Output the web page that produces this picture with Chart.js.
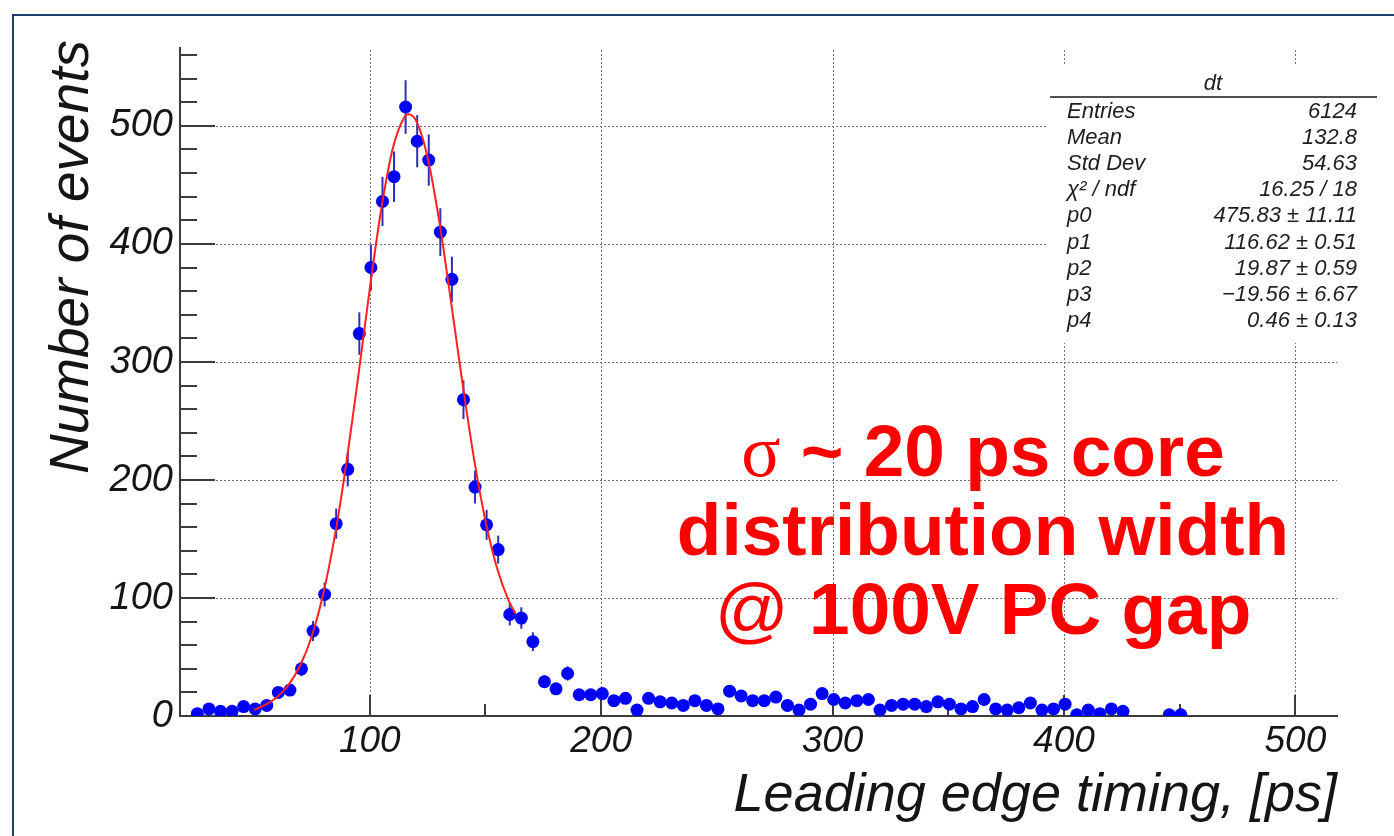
<!DOCTYPE html>
<html>
<head>
<meta charset="utf-8">
<script src="https://cdn.jsdelivr.net/npm/chart.js@4.4.0/dist/chart.umd.min.js"></script>
<style>
html,body{margin:0;padding:0;background:#fff;}
#wrap{position:relative;width:1394px;height:836px;overflow:hidden;background:#fff;}
#frame{position:absolute;left:12px;top:14px;width:1600px;height:1000px;border-left:2px solid #1f3a6e;border-top:2px solid #1f3a6e;}
#c{position:absolute;left:0;top:0;}
</style>
</head>
<body>
<div id="wrap"><div id="frame"></div><canvas id="c" width="1394" height="836"></canvas></div>
<script>
// ---- data ----
const binCenters = [25.5,30.5,35.5,40.5,45.5,50.5,55.5,60.5,65.5,70.5,75.5,80.5,85.5,90.5,95.5,100.5,105.5,110.5,115.5,120.5,125.5,130.5,135.5,140.5,145.5,150.5,155.5,160.5,165.5,170.5,175.5,180.5,185.5,190.5,195.5,200.5,205.5,210.5,215.5,220.5,225.5,230.5,235.5,240.5,245.5,250.5,255.5,260.5,265.5,270.5,275.5,280.5,285.5,290.5,295.5,300.5,305.5,310.5,315.5,320.5,325.5,330.5,335.5,340.5,345.5,350.5,355.5,360.5,365.5,370.5,375.5,380.5,385.5,390.5,395.5,400.5,405.5,410.5,415.5,420.5,425.5,445.5,450.5];
const counts = [2,6,4,4,8,6,9,20,22,40,72,103,163,209,324,380,436,457,516,487,471,410,370,268,194,162,141,86,83,63,29,23,36,18,18,19,13,15,5,15,12,11,9,13,9,6,21,17,13,13,16,9,5,10,19,14,11,13,14,5,9,10,10,8,12,10,6,8,14,6,5,7,11,5,6,10,1,5,2,6,4,1,1];
const fitX = [50,55,60,65,70,75,80,85,90,95,100,105,110,115,116.6,120,125,130,135,140,145,150,155,160,163];
const fitY = [5.2,9.6,16.2,26.6,43.0,68.0,104.4,153.7,215.8,287.4,361.8,429.8,481.2,507.6,509.9,504.6,473.3,419.6,352.7,283.0,218.7,165.5,125.4,97.9,86.6];
const xTickValues = [100,200,300,400,500];
const xMinorTicks = [50,150,250,350,450];
const yTickValues = [0,100,200,300,400,500];
const yMinorTicks = [20,40,60,80,120,140,160,180,220,240,260,280,320,340,360,380,420,440,460,480,520,540,560];
const xTitle = 'Leading edge timing, [ps]';
const yTitle = 'Number of events';
const statsTitle = 'dt';
const statsLabels = ['Entries','Mean','Std Dev','χ² / ndf','p0','p1','p2','p3','p4'];
const statsValues = ['6124','132.8','54.63','16.25 / 18','475.83 ± 11.11','116.62 ± 0.51','19.87 ± 0.59','−19.56 ± 6.67','0.46 ± 0.13'];
const annotationLines = ['σ ~ 20 ps core','distribution width','@ 100V PC gap'];

const SANS = '"Liberation Sans", Arial, Helvetica, sans-serif';
const SERIF = '"Liberation Serif", "Times New Roman", serif';

const rootPlugin = {
  id: 'rootStyle',
  beforeDatasetsDraw(chart) {
    const {ctx, chartArea: a, scales: {x, y}} = chart;
    ctx.save();
    // dotted grid
    ctx.strokeStyle = '#707070';
    ctx.lineWidth = 1;
    ctx.setLineDash([2, 2]);
    xTickValues.forEach(v => {
      const px = Math.round(x.getPixelForValue(v)) + 0.5;
      ctx.beginPath(); ctx.moveTo(px, a.bottom); ctx.lineTo(px, a.top); ctx.stroke();
    });
    yTickValues.forEach(v => {
      if (v === 0) return;
      const py = Math.round(y.getPixelForValue(v)) + 0.5;
      ctx.beginPath(); ctx.moveTo(a.left, py); ctx.lineTo(a.right, py); ctx.stroke();
    });
    ctx.setLineDash([]);
    // inside tick marks
    ctx.strokeStyle = '#3c3c3c';
    ctx.lineWidth = 2;
    yTickValues.forEach(v => {
      const py = Math.round(y.getPixelForValue(v));
      ctx.beginPath(); ctx.moveTo(a.left, py); ctx.lineTo(a.left + 35, py); ctx.stroke();
    });
    yMinorTicks.forEach(v => {
      const py = Math.round(y.getPixelForValue(v));
      ctx.beginPath(); ctx.moveTo(a.left, py); ctx.lineTo(a.left + 17, py); ctx.stroke();
    });
    xTickValues.forEach(v => {
      const px = Math.round(x.getPixelForValue(v));
      ctx.beginPath(); ctx.moveTo(px, a.bottom); ctx.lineTo(px, a.bottom - 21); ctx.stroke();
    });
    xMinorTicks.forEach(v => {
      const px = Math.round(x.getPixelForValue(v));
      ctx.beginPath(); ctx.moveTo(px, a.bottom); ctx.lineTo(px, a.bottom - 12); ctx.stroke();
    });
    // Poisson error bars
    ctx.strokeStyle = '#2f2fb4';
    ctx.lineWidth = 2;
    binCenters.forEach((xv, i) => {
      const e = Math.sqrt(counts[i]);
      const px = x.getPixelForValue(xv);
      ctx.beginPath();
      ctx.moveTo(px, y.getPixelForValue(Math.max(0, counts[i] - e)));
      ctx.lineTo(px, y.getPixelForValue(counts[i] + e));
      ctx.stroke();
    });
    ctx.restore();
  },
  afterDraw(chart) {
    const {ctx} = chart;
    ctx.save();
    // y axis title (ROOT style, right-aligned toward the top)
    ctx.fillStyle = '#151515';
    ctx.font = 'italic 55px ' + SANS;
    ctx.textAlign = 'right';
    ctx.textBaseline = 'middle';
    ctx.save();
    ctx.translate(73, 40);
    ctx.rotate(-Math.PI / 2);
    ctx.fillText(yTitle, 0, 0);
    ctx.restore();
    // statistics box
    ctx.fillStyle = '#ffffff';
    ctx.fillRect(1048, 66, 346, 277);
    ctx.fillStyle = '#1e1e1e';
    ctx.font = 'italic 22px ' + SANS;
    ctx.textBaseline = 'alphabetic';
    ctx.textAlign = 'center';
    ctx.fillText(statsTitle, 1213, 90);
    ctx.strokeStyle = '#505050';
    ctx.lineWidth = 2;
    ctx.beginPath(); ctx.moveTo(1050, 97); ctx.lineTo(1377, 97); ctx.stroke();
    statsLabels.forEach((lab, i) => {
      const by = 118 + 26.1 * i;
      ctx.textAlign = 'left';
      ctx.fillText(lab, 1067, by);
      ctx.textAlign = 'right';
      ctx.fillText(statsValues[i], 1357, by);
    });
    // red annotation
    const size = 73;
    const baselines = [476, 555, 634];
    ctx.fillStyle = '#ff0000';
    ctx.textAlign = 'left';
    annotationLines.forEach((line, i) => {
      let runs;
      if (line.startsWith('σ')) runs = [[line.slice(0, 1), 'normal ' + size + 'px ' + SERIF], [line.slice(1), 'bold ' + size + 'px ' + SANS]];
      else if (line.startsWith('@')) runs = [[line.slice(0, 1), 'normal ' + size + 'px ' + SANS], [line.slice(1), 'bold ' + size + 'px ' + SANS]];
      else runs = [[line, 'bold ' + size + 'px ' + SANS]];
      let total = 0;
      runs.forEach(r => { ctx.font = r[1]; total += ctx.measureText(r[0]).width; });
      let cx = 983 - total / 2;
      runs.forEach(r => { ctx.font = r[1]; ctx.fillText(r[0], cx, baselines[i]); cx += ctx.measureText(r[0]).width; });
    });
    ctx.restore();
  }
};

new Chart(document.getElementById('c'), {
  type: 'scatter',
  data: {
    datasets: [
      {
        type: 'line',
        label: 'fit',
        data: fitX.map((xv, i) => ({x: xv, y: fitY[i]})),
        borderColor: '#ff2020',
        borderWidth: 2,
        pointRadius: 0,
        cubicInterpolationMode: 'monotone',
        fill: false
      },
      {
        label: 'dt',
        data: binCenters.map((xv, i) => ({x: xv, y: counts[i]})),
        backgroundColor: '#0000ff',
        borderWidth: 0,
        pointRadius: 6.5,
        pointHoverRadius: 6.5
      }
    ]
  },
  options: {
    responsive: false,
    devicePixelRatio: 1,
    animation: false,
    events: [],
    layout: {padding: {left: 0, top: 48, right: 57, bottom: 0}},
    plugins: {legend: {display: false}, tooltip: {enabled: false}},
    scales: {
      x: {
        type: 'linear', min: 18, max: 518,
        afterFit(s) { s.height = 120; },
        afterBuildTicks(s) { s.ticks = xTickValues.map(v => ({value: v})); },
        grid: {display: false, drawTicks: false},
        border: {display: true, color: '#3c3c3c', width: 2},
        ticks: {autoSkip: false, maxRotation: 0, padding: 4, color: '#151515',
          font: {family: SANS, size: 37, style: 'italic'}},
        title: {display: true, text: xTitle, align: 'end', color: '#151515',
          font: {family: SANS, size: 54, style: 'italic'}, padding: {top: 0, bottom: 8}}
      },
      y: {
        type: 'linear', min: 0, max: 566,
        afterFit(s) { s.width = 180; },
        afterBuildTicks(s) { s.ticks = yTickValues.map(v => ({value: v})); },
        grid: {display: false, drawTicks: false},
        border: {display: true, color: '#3c3c3c', width: 2},
        ticks: {autoSkip: false, padding: 7, color: '#151515',
          font: {family: SANS, size: 38, style: 'italic'}},
        title: {display: false}
      }
    }
  },
  plugins: [rootPlugin]
});
</script>
</body>
</html>
